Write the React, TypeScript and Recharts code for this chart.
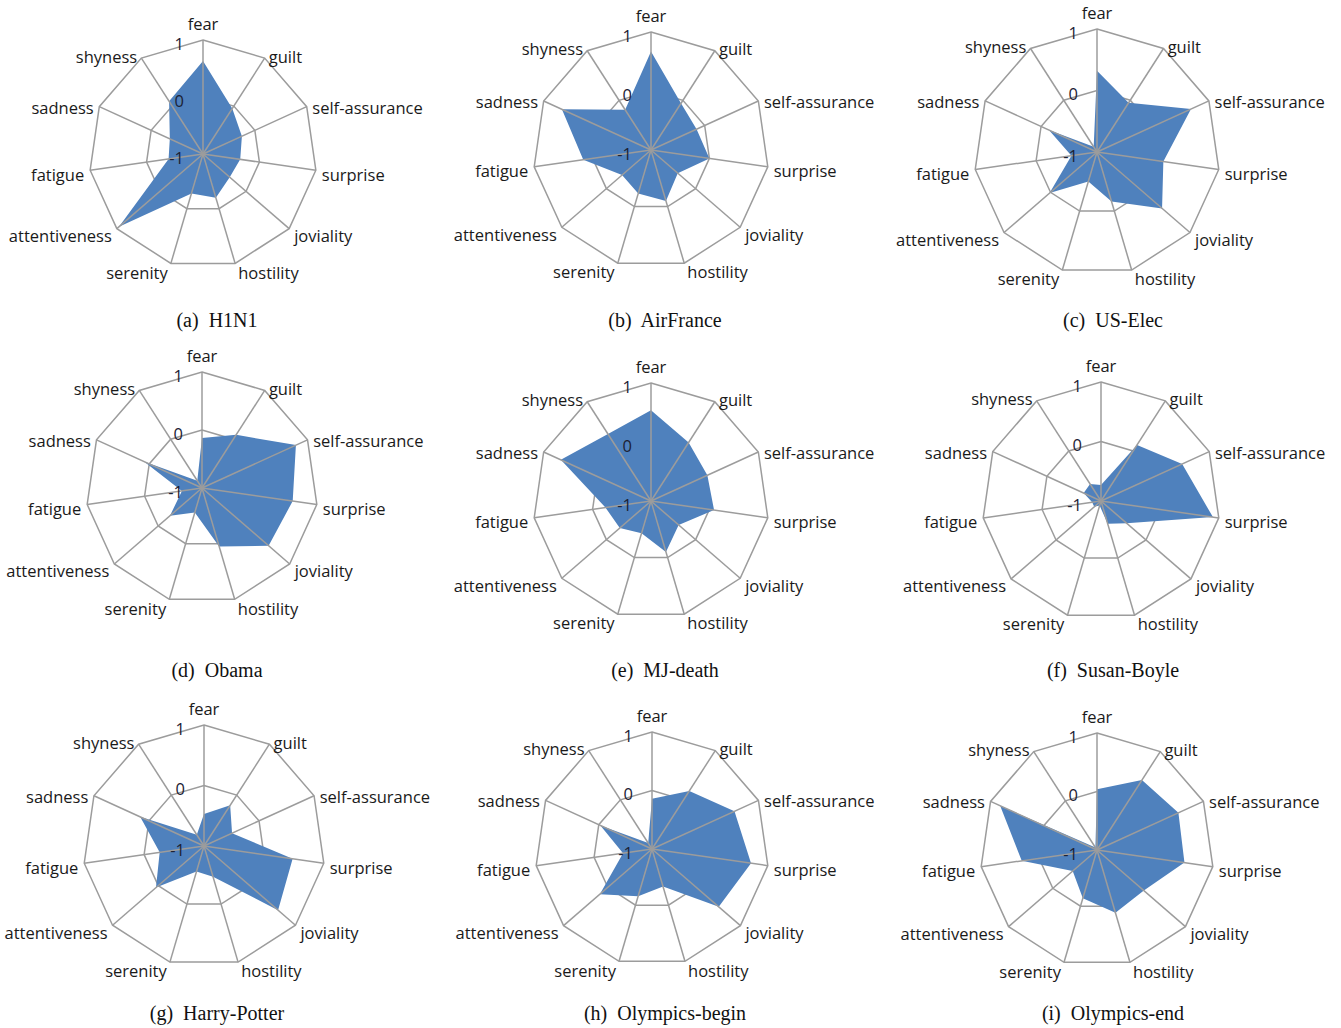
import React from 'react';
import { RadarChart, Radar, PolarGrid, PolarAngleAxis, PolarRadiusAxis } from 'recharts';

// ---------- data ----------
const emotions = [
  'fear', 'guilt', 'self-assurance', 'surprise', 'joviality', 'hostility',
  'serenity', 'attentiveness', 'fatigue', 'sadness', 'shyness',
];
const radiusTicks = [-1, 0, 1];

const h1n1 = [0.63, -0.05, -0.25, -0.34, -0.38, -0.2, -0.28, 0.95, -0.39, -0.36, 0.1];
const airFrance = [0.67, -0.06, -0.15, 0.0, -0.4, -0.1, -0.23, -0.35, 0.16, 0.66, -0.19];
const usElec = [0.32, -0.05, 0.68, 0.09, 0.4, -0.16, -0.5, 0.02, -0.58, -0.14, -0.9];
const obama = [-0.14, 0.09, 0.78, 0.58, 0.52, 0.05, -0.56, -0.27, -0.65, 0.1, -0.85];
const mjDeath = [0.54, 0.18, 0.05, 0.08, -0.38, -0.1, -0.43, -0.3, -0.22, 0.68, 0.35];
const susanBoyle = [-0.73, 0.12, 0.5, 0.9, -0.43, -0.6, -0.92, -0.85, -0.85, -0.68, -0.66];
const harryPotter = [-0.47, -0.2, -0.49, 0.48, 0.62, -0.47, -0.56, 0.05, -0.26, 0.16, -0.78];
const olympicsBegin = [-0.14, 0.18, 0.55, 0.71, 0.51, -0.33, -0.16, 0.18, -0.5, -0.03, -0.88];
const olympicsEnd = [0.04, 0.42, 0.53, 0.51, 0.06, 0.12, -0.14, -0.45, 0.3, 0.82, -0.95];

const captions = [
  '(a)  H1N1', '(b)  AirFrance', '(c)  US-Elec',
  '(d)  Obama', '(e)  MJ-death', '(f)  Susan-Boyle',
  '(g)  Harry-Potter', '(h)  Olympics-begin', '(i)  Olympics-end',
];
const seriesList = [h1n1, airFrance, usElec, obama, mjDeath, susanBoyle, harryPotter, olympicsBegin, olympicsEnd];

// ---------- layout ----------
const layout = [
  { left: 0, top: 0, width: 440, height: 340, cx: 203, cy: 154, r: 114, capX: 217, capY: 320 },
  { left: 440, top: 0, width: 450, height: 340, cx: 211, cy: 150, r: 118, capX: 225, capY: 320 },
  { left: 890, top: 0, width: 451, height: 340, cx: 207, cy: 152, r: 123, capX: 223, capY: 320 },
  { left: 0, top: 340, width: 440, height: 345, cx: 202, cy: 148, r: 116, capX: 217, capY: 330 },
  { left: 440, top: 340, width: 450, height: 345, cx: 211, cy: 161, r: 118, capX: 225, capY: 330 },
  { left: 890, top: 340, width: 451, height: 345, cx: 211, cy: 161, r: 119, capX: 223, capY: 330 },
  { left: 0, top: 685, width: 440, height: 343, cx: 204, cy: 161, r: 121, capX: 217, capY: 328 },
  { left: 440, top: 685, width: 450, height: 343, cx: 212, cy: 164, r: 117, capX: 225, capY: 328 },
  { left: 890, top: 685, width: 451, height: 343, cx: 207, cy: 165, r: 117, capX: 223, capY: 328 },
];

const LABEL_FONT = '"Open Sans", "DejaVu Sans", sans-serif';
const LABEL_SIZE = 16.5;
const GRID = '#9c9c9c';
const FILL = '#4f81bd';

function makeAngleTick(cx: number, cy: number, r: number) {
  return (props: any) => {
    const a = (props.payload.coordinate * Math.PI) / 180;
    const ux = Math.cos(-a);
    const uy = Math.sin(-a);
    const vx = cx + r * ux;
    const vy = cy + r * uy;
    const value = props.payload.value;
    if (Math.abs(ux) < 0.01 && uy < 0) {
      return (
        <text x={vx} y={vy - 10} textAnchor="middle" fontFamily={LABEL_FONT} fontSize={LABEL_SIZE} fill="#1a1a1a">
          {value}
        </text>
      );
    }
    const dx = Math.sign(ux) * (2 + 4 * Math.abs(ux));
    const dy = 3 + 6 * uy;
    return (
      <text
        x={vx + dx}
        y={vy + dy}
        textAnchor={ux > 0 ? 'start' : 'end'}
        dominantBaseline="central"
        fontFamily={LABEL_FONT}
        fontSize={LABEL_SIZE}
        fill="#1a1a1a"
      >
        {value}
      </text>
    );
  };
}

function radiusTick(props: any) {
  return (
    <text
      x={props.x - 19}
      y={props.y + 3}
      textAnchor="end"
      dominantBaseline="central"
      fontFamily={LABEL_FONT}
      fontSize={LABEL_SIZE}
      fill="#1c2233"
    >
      {props.payload.value}
    </text>
  );
}

function Panel({ series, caption, box }: { series: number[]; caption: string; box: any }) {
  const data = emotions.map((emotion, i) => ({ emotion, value: series[i] }));
  const { left, top, width, height, cx, cy, r, capX, capY } = box;
  const common = {
    width,
    height,
    data,
    cx,
    cy,
    outerRadius: r,
    startAngle: 90,
    endAngle: -270,
    margin: { top: 0, right: 0, bottom: 0, left: 0 },
  };
  return (
    <div style={{ position: 'absolute', left, top, width, height }}>
      <div style={{ position: 'absolute', left: 0, top: 0 }}>
        <RadarChart {...common}>
          <PolarGrid gridType="polygon" radialLines={false} stroke={GRID} strokeWidth={1.5} />
          <PolarAngleAxis dataKey="emotion" tick={false} axisLine={false} tickLine={false} />
          <PolarRadiusAxis type="number" domain={[-1, 1]} ticks={radiusTicks} angle={90} tick={false} axisLine={false} tickLine={false} />
          <Radar dataKey="value" fill={FILL} fillOpacity={1} stroke="none" isAnimationActive={false} />
        </RadarChart>
      </div>
      <div style={{ position: 'absolute', left: 0, top: 0 }}>
        <RadarChart {...common}>
          <PolarGrid gridType="polygon" polarRadius={[]} radialLines stroke={GRID} strokeWidth={1.5} />
          <PolarAngleAxis dataKey="emotion" tick={makeAngleTick(cx, cy, r)} axisLine={false} tickLine={false} />
          <PolarRadiusAxis type="number" domain={[-1, 1]} ticks={radiusTicks} angle={90} tick={radiusTick} axisLine={false} tickLine={false} />
          <Radar dataKey="value" fill="none" fillOpacity={0} stroke="none" isAnimationActive={false} />
        </RadarChart>
      </div>
      <div
        style={{
          position: 'absolute',
          left: capX - 150,
          top: capY - 12,
          width: 300,
          textAlign: 'center',
          fontFamily: '"Liberation Serif", "Times New Roman", serif',
          fontSize: 20,
          lineHeight: '24px',
          whiteSpace: 'pre',
          color: '#111',
        }}
      >
        {caption}
      </div>
    </div>
  );
}

export default function App() {
  return (
    <div style={{ position: 'absolute', left: 0, top: 0, width: 1341, height: 1028, background: '#fff', overflow: 'hidden' }}>
      {layout.map((box, i) => (
        <Panel key={i} series={seriesList[i]} caption={captions[i]} box={box} />
      ))}
    </div>
  );
}
